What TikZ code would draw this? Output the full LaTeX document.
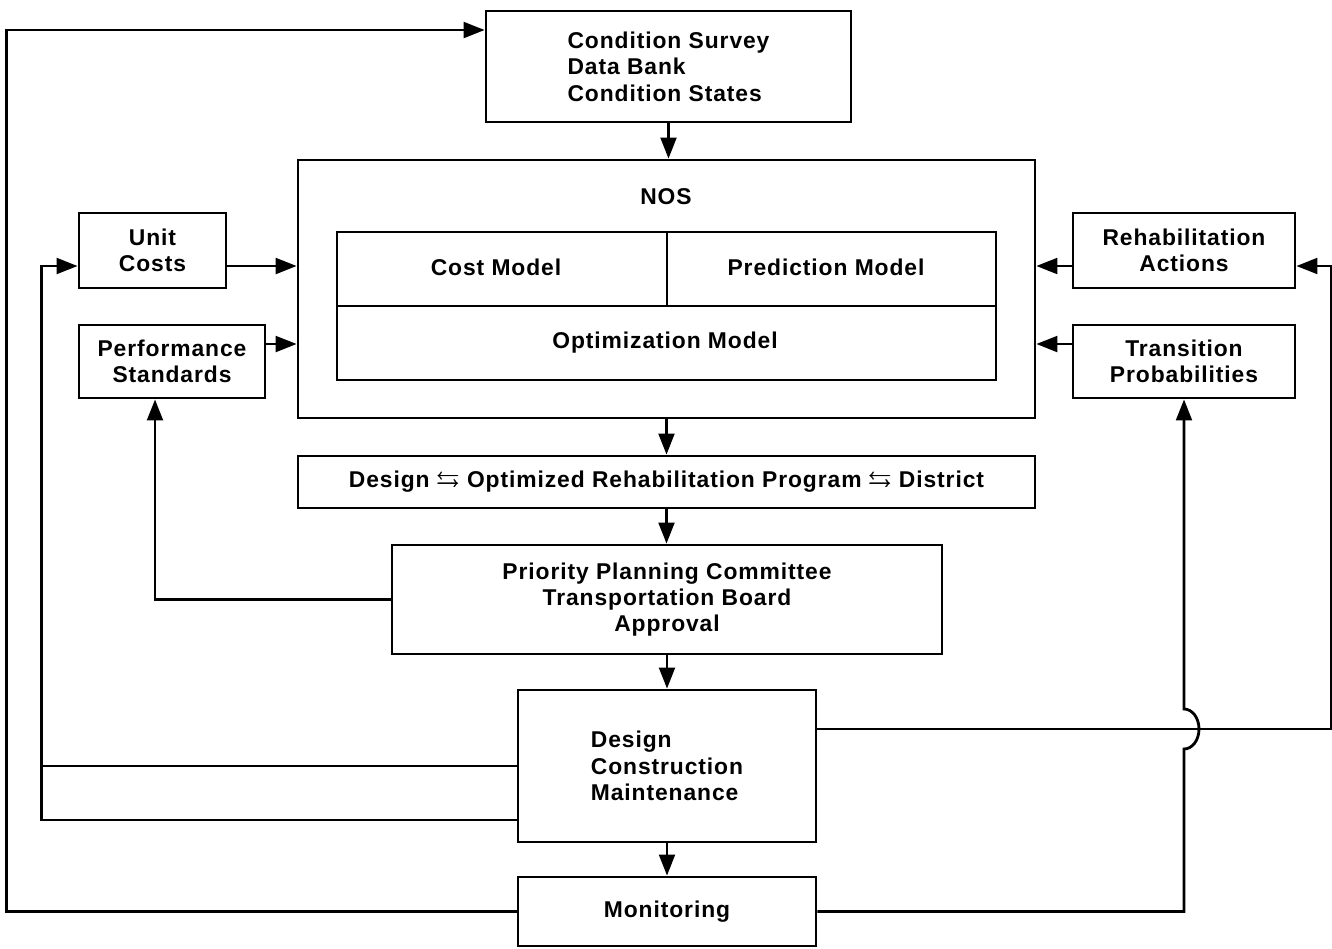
\documentclass[tikz,border=0pt]{standalone}
\usepackage{amsmath,amssymb}
\usepackage{fontspec}
\setmainfont{Liberation Sans}[LetterSpace=4]
\usetikzlibrary{arrows.meta}
\newcommand{\twoway}{$\pmb{\leftrightarrows}$}
\begin{document}
\begin{tikzpicture}[x=0.02cm,y=-0.02cm,
  line width=1.6pt,
  every node/.style={font=\bfseries\fontsize{13}{15}\selectfont},
  box/.style={draw,rectangle,inner sep=0pt,align=center},
  arr/.style={-{Triangle[length=12pt,width=9pt]}},
  line join=miter]
\useasboundingbox (0,0) rectangle (1332,948);

% main column
\node[box,minimum width=7.30cm,minimum height=2.22cm,align=left] (cs) at (668.5,66.5)
  {Condition Survey\\Data Bank\\Condition States};
\node[box,minimum width=14.74cm,minimum height=5.16cm] (nos) at (666.5,289) {};
\node (nostitle) at (666,197) {NOS};
\node[box,minimum width=6.60cm,minimum height=1.48cm] (cost) at (502,269) {};
\node (costlbl) at (496,267) {Cost Model};
\node[box,minimum width=6.58cm,minimum height=1.48cm] (pred) at (831.5,269) {};
\node (predlbl) at (826,267) {Prediction Model};
\node[box,minimum width=13.18cm,minimum height=1.48cm] (opt) at (666.5,343) {};
\node (optlbl) at (665,343) {Optimization Model};

\node[box,minimum width=14.74cm,minimum height=1.04cm] (dp) at (666.5,482)
  {Design \twoway{} Optimized Rehabilitation Program \twoway{} District};
\node[box,minimum width=11.00cm,minimum height=2.18cm] (pp) at (667,599.5)
  {Priority Planning Committee\\Transportation Board\\Approval};
\node[box,minimum width=5.96cm,minimum height=3.04cm,align=left] (dcm) at (667,766)
  {Design\\Construction\\Maintenance};
\node[box,minimum width=5.96cm,minimum height=1.38cm] (mon) at (667,911.5) {Monitoring};

% side inputs
\node[box,minimum width=2.94cm,minimum height=1.50cm] (uc) at (152.5,250.5) {Unit\\Costs};
\node[box,minimum width=3.72cm,minimum height=1.46cm] (ps) at (172,361.5) {Performance\\Standards};
\node[box,minimum width=4.44cm,minimum height=1.50cm] (ra) at (1184,250.5) {Rehabilitation\\Actions};
\node[box,minimum width=4.44cm,minimum height=1.46cm] (tp) at (1184,361.5) {Transition\\Probabilities};

% downward flow
\draw[arr] (cs.south) -- (cs.south |- nos.north);
\draw[arr] (nos.south) -- (nos.south |- dp.north);
\draw[arr] (dp.south) -- (dp.south |- pp.north);
\draw[arr] (pp.south) -- (pp.south |- dcm.north);
\draw[arr] (dcm.south) -- (dcm.south |- mon.north);

% inputs into NOS
\draw[arr] ([yshift=-0.31cm]uc.east) -- ([yshift=-0.31cm]uc.east -| nos.west);
\draw[arr] ([yshift=0.35cm]ps.east) -- ([yshift=0.35cm]ps.east -| nos.west);
\draw[arr] ([yshift=-0.31cm]ra.west) -- ([yshift=-0.31cm]ra.west -| nos.east);
\draw[arr] ([yshift=0.35cm]tp.west) -- ([yshift=0.35cm]tp.west -| nos.east);

% feedback loops
\draw[arr] (pp.west) -| ([xshift=-0.34cm]ps.south);
\draw[arr] (dcm.west) -- ++(-475,0) |- ([yshift=-0.31cm]uc.west);
\draw ([yshift=-1.08cm]dcm.west) -- ++(-475,0) -- ++(0,-54);
\draw[arr] (mon.west) -- ++(-510,0) |- ([yshift=0.73cm]cs.west);
\draw[arr] ([yshift=0.74cm]dcm.east) -- ++(514,0) |- ([yshift=-0.31cm]ra.east);
% crossing the line above with a small hop
\draw[arr] (mon.east) -- (tp.south |- mon.east) -- (1184,749)
  .. controls (1192.3,749) and (1199,740.05) .. (1199,729)
  .. controls (1199,717.95) and (1192.3,709) .. (1184,709)
  -- (tp.south);
\end{tikzpicture}
\end{document}
